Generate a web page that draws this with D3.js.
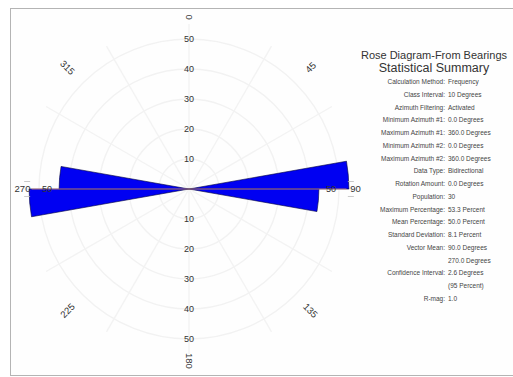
<!DOCTYPE html>
<html>
<head>
<meta charset="utf-8">
<script src="https://cdn.jsdelivr.net/npm/d3@7"></script>
<style>
  body { margin: 0; background: #fff; }
  svg { display: block; font-family: "Liberation Sans", Arial, sans-serif; }
</style>
</head>
<body>
<div id="chart"></div>
<script>
// rose bins (bidirectional, 10 degree classes)
const binStart = [80, 90, 260, 270];
const binPercent = [53.3, 43.3, 53.3, 43.3];
const classInterval = 10;

const ringTicks = [10, 20, 30, 40, 50];
const directionTicks = [0, 45, 90, 135, 180, 225, 270, 315];
const vectorMean = [90, 270];
const confidence = 2.6;

const summaryLabels = [
  "Calculation Method:", "Class Interval:", "Azimuth Filtering:",
  "Minimum Azimuth #1:", "Maximum Azimuth #1:", "Minimum Azimuth #2:",
  "Maximum Azimuth #2:", "Data Type:", "Rotation Amount:", "Population:",
  "Maximum Percentage:", "Mean Percentage:", "Standard Deviation:",
  "Vector Mean:", "", "Confidence Interval:", "", "R-mag:"
];
const summaryValues = [
  "Frequency", "10 Degrees", "Activated",
  "0.0 Degrees", "360.0 Degrees", "0.0 Degrees",
  "360.0 Degrees", "Bidirectional", "0.0 Degrees", "30",
  "53.3 Percent", "50.0 Percent", "8.1 Percent",
  "90.0 Degrees", "270.0 Degrees", "2.6 Degrees", "(95 Percent)", "1.0"
];

const width = 513, height = 377;
const cx = 189, cy = 189;

const svg = d3.select("#chart").append("svg")
  .attr("width", width)
  .attr("height", height);

// panel frame
svg.append("rect")
  .attr("x", 10.5).attr("y", 8.5)
  .attr("width", 520).attr("height", 367)
  .attr("fill", "#fefefe")
  .attr("stroke", "#b4b4b4");

const r = d3.scaleLinear().domain([0, 50]).range([0, 150]);
const rad = d => d * Math.PI / 180;

const g = svg.append("g").attr("transform", "translate(" + cx + "," + cy + ")");

// grid rings + spokes (very faint)
g.selectAll("circle.ring")
  .data(ringTicks)
  .enter().append("circle")
  .attr("class", "ring")
  .attr("r", d => r(d))
  .attr("fill", "none")
  .attr("stroke", "#f2f2f2")
  .attr("stroke-width", 1.4);

g.selectAll("line.spoke")
  .data(d3.range(0, 360, 30))
  .enter().append("line")
  .attr("class", "spoke")
  .attr("x1", 0).attr("y1", 0)
  .attr("x2", d => r(55) * Math.sin(rad(d)))
  .attr("y2", d => -r(55) * Math.cos(rad(d)))
  .attr("stroke", "#f3f3f3")
  .attr("stroke-width", 1.4);

// petals
const arc = d3.arc()
  .innerRadius(0)
  .outerRadius(d => r(d.value))
  .startAngle(d => rad(d.start))
  .endAngle(d => rad(d.start + classInterval));

g.selectAll("path.petal")
  .data(binStart.map((s, i) => ({ start: s, value: binPercent[i] })))
  .enter().append("path")
  .attr("class", "petal")
  .attr("d", arc)
  .attr("fill", "#0000f2")
  .attr("stroke", "#00003a")
  .attr("stroke-width", 0.6);

// vector mean line
g.selectAll("line.mean")
  .data(vectorMean)
  .enter().append("line")
  .attr("class", "mean")
  .attr("x1", 0).attr("y1", 0)
  .attr("x2", d => r(52.5) * Math.sin(rad(d)))
  .attr("y2", d => -r(52.5) * Math.cos(rad(d)))
  .attr("stroke", "#e09a9a")
  .attr("stroke-width", 0.8);

// confidence interval marks
vectorMean.forEach(function(m) {
  [m - confidence, m + confidence].forEach(function(a) {
    g.append("line")
      .attr("x1", r(54) * Math.sin(rad(a)) - 3)
      .attr("x2", r(54) * Math.sin(rad(a)) + 3)
      .attr("y1", -r(55) * Math.cos(rad(a)))
      .attr("y2", -r(55) * Math.cos(rad(a)))
      .attr("stroke", "#bbb")
      .attr("stroke-width", 0.8);
  });
});

// ring labels along the vertical axis
[-1, 1].forEach(function(sgn) {
  g.selectAll("text.rl" + sgn)
    .data(ringTicks)
    .enter().append("text")
    .attr("x", 0)
    .attr("y", d => sgn * r(d))
    .attr("dy", "0.35em")
    .attr("text-anchor", "middle")
    .style("font-size", "9px")
    .style("fill", "#333")
    .text(d => d);
});
// horizontal axis ring labels
g.append("text")
  .attr("x", -r(50) + 3).attr("y", 0).attr("dy", "0.35em")
  .attr("text-anchor", "start")
  .style("font-size", "9px").style("fill", "#333")
  .text(ringTicks[ringTicks.length - 1]);
g.append("text")
  .attr("x", r(50) - 3).attr("y", 0).attr("dy", "0.35em")
  .attr("text-anchor", "end")
  .style("font-size", "9px").style("fill", "#333")
  .text(ringTicks[ringTicks.length - 1]);

// direction labels, rotated along the radius
g.selectAll("text.dir")
  .data(directionTicks)
  .enter().append("text")
  .attr("class", "dir")
  .attr("transform", function(d) {
    let rot = d - 90;
    if (rot > 90) rot -= 180;
    if (rot <= -90) rot += 180;
    const rr = (d === 90 || d === 270) ? r(55.5) : r(57.3);
    const x = rr * Math.sin(rad(d)), y = -rr * Math.cos(rad(d));
    return "translate(" + x + "," + y + ") rotate(" + rot + ")";
  })
  .attr("dy", "0.35em")
  .attr("text-anchor", "middle")
  .style("font-size", "9.5px")
  .style("fill", "#333")
  .text(d => d);

// statistical summary
const tx = 434;
svg.append("text")
  .attr("x", tx).attr("y", 59)
  .attr("text-anchor", "middle")
  .style("font-size", "11px").style("fill", "#333")
  .text("Rose Diagram-From Bearings");
svg.append("text")
  .attr("x", tx).attr("y", 72)
  .attr("text-anchor", "middle")
  .style("font-size", "12.5px").style("fill", "#333")
  .text("Statistical Summary");

const rowY = d3.scaleLinear().domain([0, 17]).range([84, 301]);

svg.selectAll("text.slab")
  .data(summaryLabels)
  .enter().append("text")
  .attr("class", "slab")
  .attr("x", 445)
  .attr("y", (d, i) => rowY(i))
  .attr("text-anchor", "end")
  .style("font-size", "6.5px").style("fill", "#444")
  .text(d => d);

svg.selectAll("text.sval")
  .data(summaryValues)
  .enter().append("text")
  .attr("class", "sval")
  .attr("x", 448)
  .attr("y", (d, i) => rowY(i))
  .style("font-size", "6.5px").style("fill", "#444")
  .text(d => d);
</script>
</body>
</html>
